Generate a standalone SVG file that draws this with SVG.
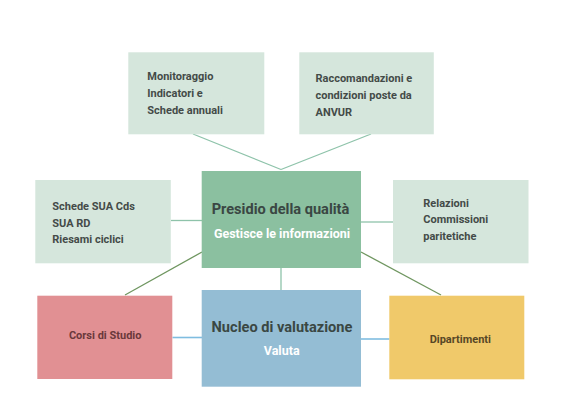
<svg xmlns="http://www.w3.org/2000/svg" width="567" height="409" viewBox="0 0 567 409">
<style>
.bg{fill:#ffffff}
.light{fill:#d5e6dc}
.t{font-family:Roboto,"Liberation Sans",sans-serif;font-weight:700;font-size:11px;fill:#444b48}
.title{font-family:Roboto,"Liberation Sans",sans-serif;font-weight:700;font-size:14.6px;fill:#3a4743;text-anchor:middle}
.sub{font-family:Roboto,"Liberation Sans",sans-serif;font-weight:700;font-size:12.5px;fill:#ffffff;text-anchor:middle}
.c{fill:none;stroke-width:1.3}
.g1{stroke:#8ec3aa}
.g2{stroke:#6f9660}
.b{stroke:#7fbde0;stroke-width:1.6}
</style>
<rect class="bg" x="0" y="0" width="567" height="409"/>
<g id="connectors">
<line class="c g1" x1="193" y1="134" x2="281" y2="169.5"/>
<line class="c g1" x1="371" y1="134" x2="281" y2="169.5"/>
<line class="c g1" x1="171" y1="220.5" x2="202" y2="220.5"/>
<line class="c g1" x1="361" y1="222" x2="393" y2="222"/>
<line class="c g2" x1="202" y1="252" x2="125" y2="295"/>
<line class="c g2" x1="361" y1="252" x2="441" y2="295"/>
<line class="c g1" x1="281" y1="268" x2="281" y2="290"/>
<line class="c b" x1="172.5" y1="337.5" x2="202" y2="337.5"/>
<line class="c b" x1="361" y1="339" x2="389.5" y2="339"/>
</g>
<g id="monitoraggio">
<rect class="light" x="128.3" y="52.3" width="136" height="82"/>
<text class="t" x="147.3" y="80">Monitoraggio</text>
<text class="t" x="147.3" y="97.3">Indicatori e</text>
<text class="t" x="147.3" y="114.3">Schede annuali</text>
</g>
<g id="raccomandazioni">
<rect class="light" x="299.3" y="52.3" width="134.5" height="82"/>
<text class="t" x="315.5" y="82.3">Raccomandazioni e</text>
<text class="t" x="315.5" y="99.3">condizioni poste da</text>
<text class="t" x="315.5" y="116.3">ANVUR</text>
</g>
<g id="schede">
<rect class="light" x="35.3" y="180" width="135.5" height="83.3"/>
<text class="t" x="52.3" y="210">Schede SUA Cds</text>
<text class="t" x="52.3" y="226.7">SUA RD</text>
<text class="t" x="52.3" y="243.4">Riesami ciclici</text>
</g>
<g id="relazioni">
<rect class="light" x="393" y="180" width="135.5" height="83.3"/>
<text class="t" x="423.3" y="206.7">Relazioni</text>
<text class="t" x="423.3" y="223.4">Commissioni</text>
<text class="t" x="423.3" y="240.1">paritetiche</text>
</g>
<g id="presidio">
<rect x="201.7" y="171" width="159.3" height="97" fill="#8bc0a0"/>
<text class="title" x="280.5" y="213.5">Presidio della qualità</text>
<text class="sub" x="282" y="237.5">Gestisce le informazioni</text>
</g>
<g id="nucleo">
<rect x="201.7" y="290" width="159.3" height="96.7" fill="#94bdd4"/>
<text class="title" x="282" y="331.7">Nucleo di valutazione</text>
<text class="sub" x="281.7" y="355">Valuta</text>
</g>
<g id="corsi">
<rect x="37.3" y="295.7" width="135" height="83.3" fill="#e19093"/>
<text class="t" x="105.2" y="339" text-anchor="middle" font-size="11.5" style="fill:#6a383b">Corsi di Studio</text>
</g>
<g id="dipartimenti">
<rect x="389.3" y="295.7" width="135" height="83.6" fill="#f0c96a"/>
<text class="t" x="460.3" y="343.3" text-anchor="middle" font-size="11.5" style="fill:#574726">Dipartimenti</text>
</g>
</svg>
